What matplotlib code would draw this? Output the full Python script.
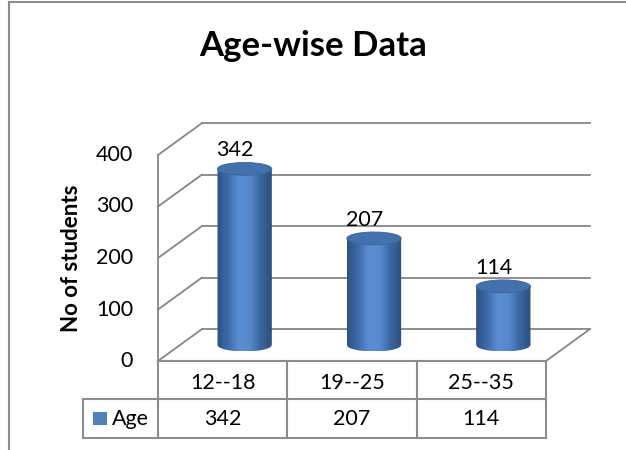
import numpy as np
import matplotlib
matplotlib.use("Agg")
import matplotlib.pyplot as plt
from matplotlib.patches import Ellipse, Rectangle, Polygon
from matplotlib.colors import LinearSegmentedColormap

categories = ["12--18", "19--25", "25--35"]
values = [342, 207, 114]
series_name = "Age"
yticks = [0, 100, 200, 300, 400]

plt.rcParams['font.family'] = ['Lato', 'DejaVu Sans']
FS = 15.5

fig = plt.figure(figsize=(6.26, 4.5), dpi=100)
ax = fig.add_axes([158/626, 89/450, 388/626, 206/450])
ax.set_xlim(-0.5, 2.5)
ax.set_ylim(0, 400)
ax.axis('off')

# depth of the fake 3d box, in data units
DX, DY = 0.34, 62
grid = '#868686'

# back wall gridlines + side wall diagonals
for t in yticks:
    ax.plot([-0.5 + DX, 2.5 + DX], [t + DY, t + DY], color=grid, lw=1.3, clip_on=False)
    ax.plot([-0.5, -0.5 + DX], [t, t + DY], color=grid, lw=1.3, clip_on=False)
    ax.annotate(str(t), (-0.5, t), xytext=(-18, 0), textcoords='offset points',
                ha='right', va='center', fontsize=FS, annotation_clip=False)
# front left edge, floor
ax.plot([-0.5, -0.5], [0, 400], color=grid, lw=1.3, clip_on=False)
ax.plot([2.5, 2.5 + DX], [0, DY], color=grid, lw=1.3, clip_on=False)

# cylinders
body_cmap = LinearSegmentedColormap.from_list(
    'cyl', ['#2c5288', '#3e6cab', '#5a8ed2', '#5789cb', '#3a66a0', '#2c5081'])
top_color = '#4271ab'
a = 0.21   # radius in category units
b = 12.5   # half height of ellipse in value units
grad = np.linspace(0, 1, 64).reshape(1, -1)
for i, v in enumerate(values):
    cx = i + DX / 2
    cy = DY / 2
    xs = np.linspace(-a, a, 60)
    bottom = -b * np.sqrt(np.clip(1 - (xs / a) ** 2, 0, 1))
    outline = [(cx + x, cy + y) for x, y in zip(xs, bottom)]
    outline += [(cx + a, cy + v), (cx - a, cy + v)]
    body = Polygon(outline, closed=True, facecolor='none', edgecolor='none',
                   transform=ax.transData)
    ax.add_patch(body)
    im = ax.imshow(grad, cmap=body_cmap, aspect='auto', interpolation='bicubic',
                   extent=(cx - a, cx + a, cy - b, cy + v), zorder=3)
    im.set_clip_path(body)
    ax.add_patch(Ellipse((cx, cy + v), 2 * a, 2 * b, facecolor=top_color,
                         edgecolor='#3b659c', lw=0.6, clip_on=False, zorder=4))
    ax.annotate(str(v), (cx, cy + v), xytext=(-7, 13.5), textcoords='offset points',
                ha='center', va='center', fontsize=FS, zorder=5)
ax.set_xlim(-0.5, 2.5)
ax.set_ylim(0, 400)

# y label
fig.text(72/626, 1 - 258/450, "No of students", rotation=90, ha='center', va='center',
         fontsize=16, fontweight='bold')

# title
fig.text(313/626, 1 - 46/450, "Age-wise Data", ha='center', va='center',
         fontsize=25, fontweight='bold')

# data table below the plot (axes fraction coordinates)
tab = '#8c8c8c'
px_y = 1 / 206      # one pixel in axes-y fraction
px_x = 1 / 388
row1_bot = -38 * px_y
row2_bot = -77 * px_y
label_left = -75 * px_x
tkw = dict(transform=ax.transAxes, color=tab, lw=1.5, clip_on=False)
ax.plot([0, 1], [0, 0], **tkw)
ax.plot([label_left, 1], [row1_bot, row1_bot], **tkw)
ax.plot([label_left, 1], [row2_bot, row2_bot], **tkw)
ax.plot([label_left, label_left], [row1_bot, row2_bot], **tkw)
for j in range(len(categories) + 1):
    ax.plot([j / 3, j / 3], [0, row2_bot], **tkw)
for j, (c, v) in enumerate(zip(categories, values)):
    ax.text((j + 0.5) / 3, -22 * px_y, c, transform=ax.transAxes, ha='center',
            va='center', fontsize=FS)
    ax.text((j + 0.5) / 3, -58 * px_y, str(v), transform=ax.transAxes, ha='center',
            va='center', fontsize=FS)
ax.add_patch(Rectangle((label_left + 10 * px_x, -64 * px_y), 14 * px_x, 13 * px_y,
                       transform=ax.transAxes, facecolor='#4f81bd', clip_on=False))
ax.text(label_left + 29 * px_x, -58 * px_y, series_name, transform=ax.transAxes,
        ha='left', va='center', fontsize=FS)

# chart frame
fig.add_artist(plt.Line2D([9/626, 9/626], [0, 1 - 2/450], transform=fig.transFigure,
                          color='#8c8c8c', lw=1.5))
fig.add_artist(plt.Line2D([9/626, 1], [1 - 2/450, 1 - 2/450], transform=fig.transFigure,
                          color='#8c8c8c', lw=1.5))

fig.savefig("out.png", dpi=100)
